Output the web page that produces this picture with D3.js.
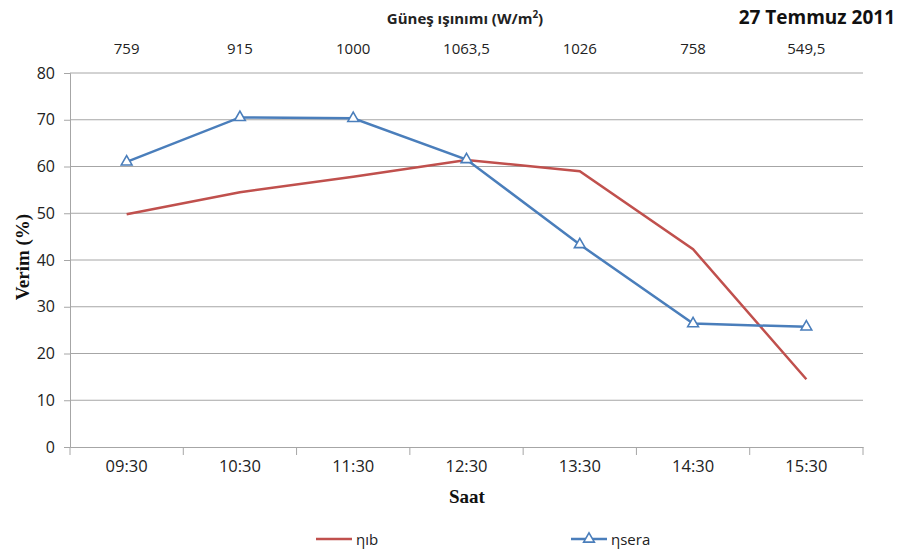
<!DOCTYPE html>
<html><head><meta charset="utf-8">
<script src="https://cdn.jsdelivr.net/npm/d3@7"></script>
<style>body{margin:0;background:#fff}svg{display:block}</style>
</head><body>
<svg id="c" width="901" height="554"></svg>
<script>
const categories = ["09:30","10:30","11:30","12:30","13:30","14:30","15:30"];
const irradiance = ["759","915","1000","1063,5","1026","758","549,5"];
const etaIb = [49.8, 54.5, 57.8, 61.4, 59.0, 42.3, 14.5];
const etaSera = [61.0, 70.5, 70.3, 61.5, 43.3, 26.4, 25.7];
const yTicks = [0,10,20,30,40,50,60,70,80];

const svg = d3.select("#c");
const L = 70, R = 863, T = 73, B = 447;
const font = "'Open Sans', Lato, sans-serif";
const serif = "'Liberation Serif', 'Times New Roman', 'DejaVu Serif', serif";

const x = d3.scaleBand().domain(categories).range([L, R]);
const y = d3.scaleLinear().domain([0, 80]).range([B, T]);

// gridlines
svg.append("g").selectAll("line").data(yTicks.filter(d => d > 0)).join("line")
  .attr("x1", L).attr("x2", R).attr("y1", d => y(d)).attr("y2", d => y(d))
  .attr("stroke", "#a6a6a6").attr("stroke-width", 1);

// y axis
const ya = svg.append("g").attr("transform", `translate(${L},0)`)
  .call(d3.axisLeft(y).tickValues(yTicks).tickSize(6).tickPadding(9));
ya.select(".domain").attr("stroke", "#a6a6a6");
ya.selectAll(".tick line").attr("stroke", "#a6a6a6");
ya.selectAll("text").attr("font-family", font).attr("font-size", 16).attr("fill", "#222");

// x axis
const xa = svg.append("g").attr("transform", `translate(0,${B})`)
  .call(d3.axisBottom(x).tickSize(0).tickPadding(13));
xa.select(".domain").attr("stroke", "#a6a6a6");
xa.selectAll("text").attr("font-family", font).attr("font-size", 16.5).attr("fill", "#222");
// boundary ticks
const bounds = categories.map(c => x(c)).concat([R]);
svg.append("g").selectAll("line").data(bounds).join("line")
  .attr("x1", d => d).attr("x2", d => d).attr("y1", B).attr("y2", B + 8)
  .attr("stroke", "#a6a6a6");

// top irradiance labels
svg.append("g").selectAll("text").data(irradiance).join("text")
  .attr("x", (d, i) => x(categories[i]) + x.bandwidth() / 2).attr("y", 54)
  .attr("text-anchor", "middle").attr("font-family", font).attr("font-size", 15).attr("fill", "#222")
  .text(d => d);

// titles
const t1 = svg.append("text").attr("x", 465).attr("y", 24).attr("text-anchor", "middle")
  .attr("font-family", font).attr("font-size", 15).attr("font-weight", "bold").attr("fill", "#222");
t1.append("tspan").text("Güneş ışınımı (W/m");
t1.append("tspan").attr("dy", -6).attr("font-size", 10).text("2");
t1.append("tspan").attr("dy", 6).text(")");
svg.append("text").attr("x", 895).attr("y", 24).attr("text-anchor", "end")
  .attr("font-family", font).attr("font-size", 19).attr("font-weight", "bold").attr("fill", "#111")
  .text("27 Temmuz 2011");

// axis titles
svg.append("text").attr("transform", `translate(29,257) rotate(-90)`).attr("text-anchor", "middle")
  .attr("font-family", serif).attr("font-size", 19).attr("font-weight", "bold").attr("fill", "#111")
  .text("Verim (%)");
svg.append("text").attr("x", 467).attr("y", 503).attr("text-anchor", "middle")
  .attr("font-family", serif).attr("font-size", 19).attr("font-weight", "bold").attr("fill", "#111")
  .text("Saat");

const cx = c => x(c) + x.bandwidth() / 2;
const line = d3.line().x((d, i) => cx(categories[i])).y(d => y(d));

const red = "#c0504d", blue = "#4a7ebb";
svg.append("path").datum(etaIb).attr("d", line).attr("fill", "none")
  .attr("stroke", red).attr("stroke-width", 2.5);
svg.append("path").datum(etaSera).attr("d", line).attr("fill", "none")
  .attr("stroke", blue).attr("stroke-width", 2.5);

const tri = d3.symbol().type(d3.symbolTriangle).size(50);
svg.append("g").selectAll("path").data(etaSera).join("path")
  .attr("d", tri).attr("transform", (d, i) => `translate(${cx(categories[i])},${y(d)})`)
  .attr("fill", "#fff").attr("stroke", blue).attr("stroke-width", 1.6);

// legend
const lg = svg.append("g").attr("font-family", font).attr("font-size", 15).attr("fill", "#222");
lg.append("line").attr("x1", 316).attr("x2", 352).attr("y1", 539).attr("y2", 539).attr("stroke", red).attr("stroke-width", 2.5);
lg.append("text").attr("x", 356).attr("y", 545).text("ηıb");
lg.append("line").attr("x1", 571).attr("x2", 607).attr("y1", 539).attr("y2", 539).attr("stroke", blue).attr("stroke-width", 2.5);
lg.append("path").attr("d", tri).attr("transform", "translate(589,539)").attr("fill", "#fff").attr("stroke", blue).attr("stroke-width", 1.6);
lg.append("text").attr("x", 611).attr("y", 545).text("ηsera");
</script>
</body></html>
